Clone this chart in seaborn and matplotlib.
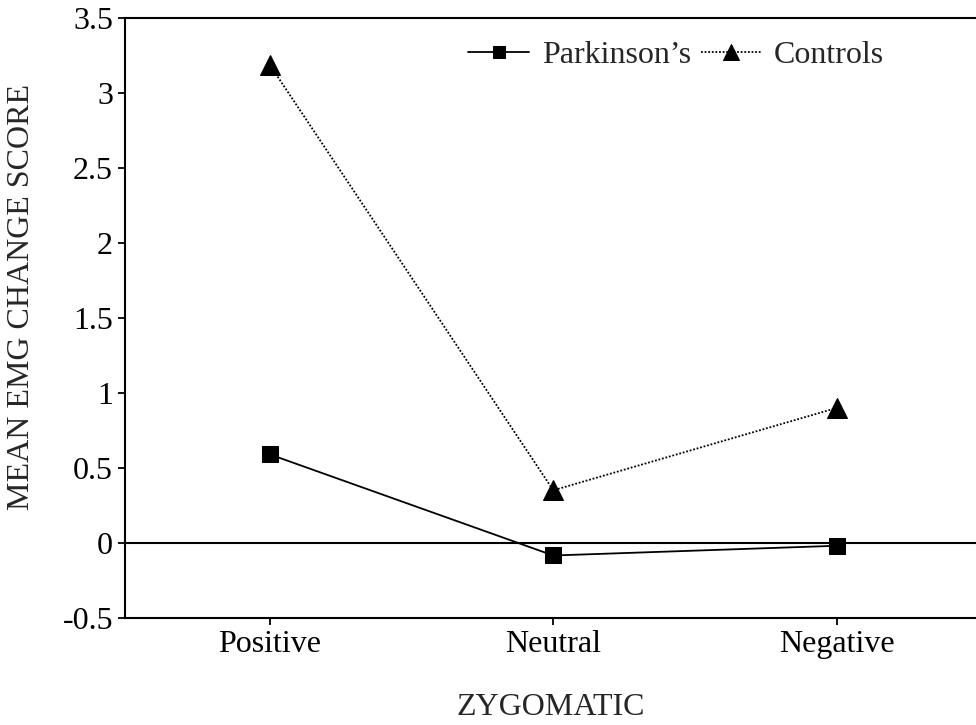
import pandas as pd
import matplotlib.pyplot as plt
import seaborn as sns

# zygomatic EMG change scores, Parkinson's vs controls

conditions = ['Positive', 'Neutral', 'Negative']
parkinsons = [0.59, -0.085, -0.02]
controls = [3.19, 0.35, 0.9]
y_ticks = [-0.5, 0, 0.5, 1, 1.5, 2, 2.5, 3, 3.5]
y_tick_labels = ['-0.5', '0', '0.5', '1', '1.5', '2', '2.5', '3', '3.5']

pk = pd.DataFrame({'condition': conditions, 'score': parkinsons})
ct = pd.DataFrame({'condition': conditions, 'score': controls})

sns.set_style('ticks')
plt.rcParams['font.family'] = ['Liberation Serif', 'DejaVu Serif']

fig, ax = plt.subplots(figsize=(9.76, 7.25), dpi=100)

ax.axhline(0, color='black', lw=1.5, zorder=1)

sns.lineplot(data=pk, x='condition', y='score', color='black', marker='s',
             markersize=12, lw=1.3, markeredgecolor='black',
             label='Parkinson\u2019s', ax=ax, zorder=3)
sns.lineplot(data=ct, x='condition', y='score', color='black', marker='^',
             markersize=15, lw=1.3, linestyle=(0, (1, 1)), markeredgecolor='black',
             label='Controls', ax=ax, zorder=3)

ax.set_xlim(-0.51, 2.49)
ax.set_ylim(-0.5, 3.5)
ax.set_yticks(y_ticks)
ax.set_yticklabels(y_tick_labels)
ax.tick_params(labelsize=23, width=1.3, length=5, colors='black')
ax.set_xlabel('ZYGOMATIC', fontsize=23, labelpad=25)
ax.set_ylabel('MEAN EMG CHANGE SCORE', fontsize=23)
ax.yaxis.set_label_coords(-0.105, 0.535)

for side in ['left', 'bottom', 'top']:
    ax.spines[side].set_color('black')
    ax.spines[side].set_linewidth(1.5)
ax.spines['right'].set_visible(False)

leg = ax.legend(loc='upper right', frameon=False, fontsize=23, handlelength=1.9,
                ncol=2, columnspacing=0.3, handletextpad=0.4,
                bbox_to_anchor=(0.926, 1.01), markerscale=0.75)

plt.subplots_adjust(left=0.128, right=1.0, top=0.975, bottom=0.148)
plt.savefig('out.png', dpi=100)
